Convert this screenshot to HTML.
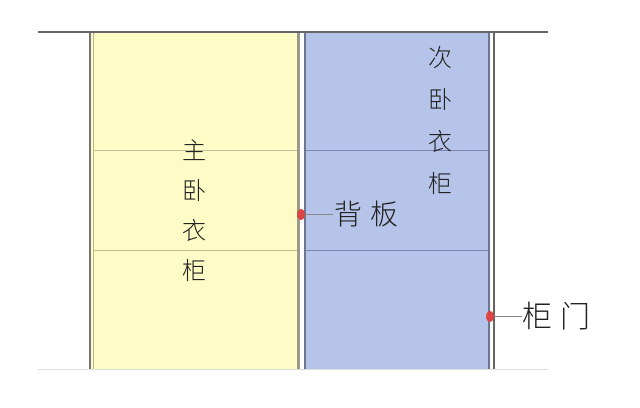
<!DOCTYPE html>
<html><head><meta charset="utf-8"><style>
body{margin:0;width:640px;height:408px;background:#fff;position:relative;overflow:hidden;font-family:"Liberation Sans","Noto Sans CJK SC",sans-serif}
div{position:absolute}
.t{font-size:26px;color:#222;line-height:1;font-weight:300}
</style></head><body>
<div style="left:38px;top:31px;width:510px;height:2px;background:#666"></div>
<div style="left:89px;top:33px;width:211px;height:336px;background:#fdfcc6;border-left:2px solid #777;box-sizing:border-box"></div>
<div style="left:93px;top:33px;width:1px;height:336px;background:#bcb98c"></div>
<div style="left:297px;top:33px;width:3px;height:336px;background:#9a9a8a"></div>
<div style="left:304px;top:33px;width:186px;height:336px;background:#b6c4ea;border-left:2px solid #6d7590;border-right:2px solid #6d7590;box-sizing:border-box"></div>
<div style="left:493px;top:33px;width:2px;height:336px;background:#666"></div>
<div style="left:93px;top:150px;width:204px;height:1px;background:#c4c09a"></div>
<div style="left:93px;top:250px;width:204px;height:1px;background:#c4c09a"></div>
<div style="left:306px;top:150px;width:182px;height:1px;background:#7c86b0"></div>
<div style="left:306px;top:250px;width:182px;height:1px;background:#7c86b0"></div>
<div style="left:38px;top:369px;width:510px;height:1px;background:#ddd"></div>
<div class="t" style="left:182px;top:132px;width:28px;line-height:40px;font-size:24px">主<br>卧<br>衣<br>柜</div>
<div class="t" style="left:428px;top:38px;width:28px;line-height:42px;font-size:24px">次<br>卧<br>衣<br>柜</div>
<div style="left:297px;top:209px;width:8px;height:11px;border-radius:50%;background:#d44"></div>
<div style="left:305px;top:214px;width:28px;height:1px;background:#888"></div>
<div class="t" style="left:334px;top:201px;font-size:28px;letter-spacing:8px">背板</div>
<div style="left:486px;top:311px;width:8px;height:11px;border-radius:50%;background:#d44"></div>
<div style="left:494px;top:316px;width:28px;height:1px;background:#888"></div>
<div class="t" style="left:522px;top:303px;font-size:30px;letter-spacing:8px">柜门</div>
</body></html>
